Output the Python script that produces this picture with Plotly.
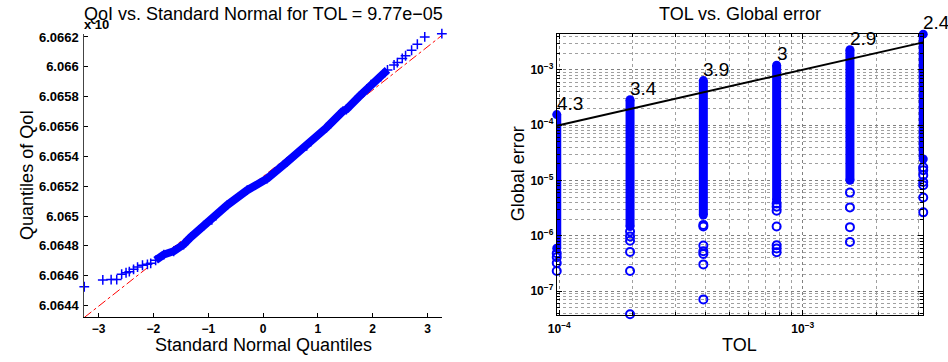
import plotly.graph_objects as go
import math

# ---------------- Left panel: QQ plot data ----------------
qq_x = [-3.262, -2.924, -2.772, -2.67, -2.58, -2.50, -2.44, -2.363, -2.29, -2.20, -2.11, -2.05,
        -1.96, -1.81, -1.63, -1.45, -1.32, -1.085, -0.935, -0.651, -0.289, 0.072, 0.434, 0.796,
        1.157, 1.459, 1.519, 1.76, 1.97, 2.15, 2.27, 2.39, 2.45, 2.54, 2.60, 2.71, 2.815, 2.95, 3.262]
qq_y = [6.064526, 6.064572, 6.064574, 6.064574, 6.06461, 6.06462, 6.064627, 6.064643, 6.064658,
        6.06467, 6.064676, 6.064683, 6.064703, 6.064742, 6.064764, 6.064809, 6.064858, 6.064935,
        6.064975, 6.065074, 6.065173, 6.06525, 6.065361, 6.065471, 6.065592, 6.065703, 6.065714,
        6.065803, 6.06588, 6.065935, 6.065979, 6.066012, 6.066028, 6.066056, 6.066074, 6.066111,
        6.066151, 6.0662, 6.066222]
ref_x = [-3.262, 3.262]
ref_y = [6.06432, 6.06621]
left_yticks = [6.0644, 6.0646, 6.0648, 6.065, 6.0652, 6.0654, 6.0656, 6.0658, 6.066, 6.0662]
left_yticklabels = ["6.0644", "6.0646", "6.0648", "6.065", "6.0652", "6.0654", "6.0656",
                    "6.0658", "6.066", "6.0662"]
left_xticks = [-3, -2, -1, 0, 1, 2, 3]

# ---------------- Right panel: TOL vs global error ----------------
tol = [9.765625e-05, 1.953125e-04, 3.90625e-04, 7.8125e-04, 1.5625e-03, 3.125e-03]
err_top = [1.55e-4, 2.88e-4, 6.37e-4, 1.21e-3, 2.30e-3, 4.40e-3]
err_dense_bottom = [5.98e-7, 1.48e-6, 2.39e-6, 4.43e-6, 1.01e-5, 2.45e-5]
err_outliers = [
    [4.87e-7, 4.13e-7, 3.23e-7, 2.32e-7],
    [1.20e-6, 9.80e-7, 8.20e-7, 5.14e-7, 2.32e-7, 3.85e-8],
    [1.58e-6, 1.48e-6, 6.68e-7, 5.28e-7, 4.73e-7, 3.06e-7, 7.14e-8],
    [3.85e-6, 3.36e-6, 2.85e-6, 1.48e-6, 6.76e-7, 5.90e-7, 5.07e-7],
    [6.05e-6, 3.27e-6, 1.44e-6, 7.74e-7],
    [1.74e-5, 1.54e-5, 1.25e-5, 9.40e-6, 8.20e-6, 4.93e-6, 2.66e-6],
]
ratio_labels = ["4.3", "3.4", "3.9", "3", "2.9", "2.4"]

FONT = "Liberation Sans, Arial, Helvetica, sans-serif"
BLUE = "#0000ff"
W, H = 948, 362

def px_x(p):
    return p / W

def px_y(p):
    return 1 - p / H

fig = go.Figure()

# ---- left panel traces ----
fig.add_trace(go.Scatter(x=ref_x, y=ref_y, mode="lines",
                         line=dict(color="#ff0000", width=1, dash="dashdot"),
                         xaxis="x", yaxis="y", showlegend=False, hoverinfo="skip"))
body_x = [a for a in qq_x if -2.0 <= a <= 2.3]
body_y = [b for a, b in zip(qq_x, qq_y) if -2.0 <= a <= 2.3]
fig.add_trace(go.Scatter(x=body_x, y=body_y, mode="lines",
                         line=dict(color=BLUE, width=8),
                         xaxis="x", yaxis="y", showlegend=False, hoverinfo="skip"))
fig.add_trace(go.Scatter(x=qq_x, y=qq_y, mode="markers", cliponaxis=False,
                         marker=dict(symbol="cross-thin", size=7, color=BLUE,
                                     line=dict(color=BLUE, width=1.5)),
                         xaxis="x", yaxis="y", showlegend=False))

# ---- right panel traces ----
col_x, col_y = [], []
for t, top, bot in zip(tol, err_top, err_dense_bottom):
    col_x += [t, t, None]
    col_y += [bot, top, None]
fig.add_trace(go.Scatter(x=col_x, y=col_y, mode="lines+markers", cliponaxis=False,
                         line=dict(color=BLUE, width=9),
                         marker=dict(symbol="circle", size=9, color=BLUE),
                         xaxis="x2", yaxis="y2", showlegend=False, hoverinfo="skip"))
out_x, out_y = [], []
for t, outs in zip(tol, err_outliers):
    for v in outs:
        out_x.append(t)
        out_y.append(v)
fig.add_trace(go.Scatter(x=out_x, y=out_y, mode="markers", cliponaxis=False,
                         marker=dict(symbol="circle-open", size=8, color=BLUE,
                                     line=dict(color=BLUE, width=2)),
                         xaxis="x2", yaxis="y2", showlegend=False))
fig.add_trace(go.Scatter(x=tol, y=tol, mode="lines",
                         line=dict(color="black", width=2),
                         xaxis="x2", yaxis="y2", showlegend=False))

# minor grid positions for log axes
x_minor = [m * 10.0 ** k for k in (-4, -3) for m in range(1, 10) if m * 10.0 ** k <= 3.2e-3]
y_minor = [m * 10.0 ** k for k in range(-8, -2) for m in range(1, 10)]

tickfont = dict(family=FONT, size=13, color="black", weight="bold")
tickfont_x = dict(family=FONT, size=12, color="black", weight="bold")
tickfont_r = dict(family=FONT, size=12, color="black", weight="bold")

fig.update_layout(
    width=W, height=H,
    margin=dict(l=0, r=0, t=0, b=0),
    paper_bgcolor="white", plot_bgcolor="white",
    font=dict(family=FONT, color="black"),
    xaxis=dict(domain=[px_x(76), px_x(437)], range=[-3.262, 3.262],
               tickvals=left_xticks, ticks="inside", ticklen=4, tickcolor="black",
               showline=True, linecolor="black", linewidth=1, mirror=False,
               showgrid=False, zeroline=False, tickfont=tickfont_x, anchor="y"),
    yaxis=dict(domain=[px_y(317), px_y(30)], range=[6.06432, 6.066222],
               tickvals=left_yticks, ticktext=left_yticklabels,
               ticks="inside", ticklen=4, tickcolor="black", ticklabelstandoff=2,
               showline=True, linecolor="#444444", linewidth=1, mirror=False,
               showgrid=False, zeroline=False, tickfont=tickfont, anchor="x"),
    xaxis2=dict(domain=[px_x(553), px_x(923)], type="log",
                range=[math.log10(tol[0]), math.log10(tol[-1])],
                tickvals=[1e-4, 1e-3], ticktext=["10<sup>\u22124</sup>", "10<sup>\u22123</sup>"],
                ticks="inside", ticklen=5, tickcolor="black", ticklabelstandoff=3,
                showline=True, linecolor="black", linewidth=1, mirror="ticks",
                showgrid=True, gridcolor="#808080", griddash="dot", gridwidth=1,
                minor=dict(tickmode="array", tickvals=x_minor, ticks="inside", ticklen=3,
                           tickcolor="black", showgrid=True, gridcolor="#a0a0a0",
                           griddash="dot", gridwidth=1),
                zeroline=False, tickfont=tickfont_r, anchor="y2"),
    yaxis2=dict(domain=[px_y(314), px_y(30)], type="log", range=[-7.42, -2.348],
                tickvals=[1e-7, 1e-6, 1e-5, 1e-4, 1e-3],
                ticktext=["10<sup>\u22127</sup>", "10<sup>\u22126</sup>", "10<sup>\u22125</sup>",
                          "10<sup>\u22124</sup>", "10<sup>\u22123</sup>"],
                ticks="inside", ticklen=5, tickcolor="black",
                showline=True, linecolor="black", linewidth=1, mirror="ticks",
                showgrid=True, gridcolor="#808080", griddash="dot", gridwidth=1,
                minor=dict(tickmode="array", tickvals=y_minor, ticks="inside", ticklen=3,
                           tickcolor="black", showgrid=True, gridcolor="#a0a0a0",
                           griddash="dot", gridwidth=1),
                zeroline=False, tickfont=tickfont_r, anchor="x2"),
)

ann = []
# ratio labels
for t, top, lab in zip(tol, err_top, ratio_labels):
    ann.append(dict(x=math.log10(t), y=math.log10(top), xref="x2", yref="y2",
                    text=lab, showarrow=False, xanchor="left", yanchor="bottom",
                    xshift=-2, yshift=-1,
                    font=dict(family=FONT, size=19, color="black")))
title_font = dict(family=FONT, size=18, color="black")
ann += [
    dict(x=px_x(257), y=px_y(10), xref="paper", yref="paper", showarrow=False,
         text="QoI vs. Standard Normal for TOL = 9.77e\u221205",
         xanchor="center", yanchor="middle", font=title_font),
    dict(x=px_x(738), y=px_y(10), xref="paper", yref="paper", showarrow=False,
         text="TOL vs. Global error", xanchor="center", yanchor="middle", font=title_font),
    dict(x=px_x(257), y=px_y(345), xref="paper", yref="paper", showarrow=False,
         text="Standard Normal Quantiles", xanchor="center", yanchor="middle", font=title_font),
    dict(x=px_x(738), y=px_y(345), xref="paper", yref="paper", showarrow=False,
         text="TOL", xanchor="center", yanchor="middle", font=title_font),
    dict(x=px_x(18), y=px_y(173), xref="paper", yref="paper", showarrow=False,
         text="Quantiles of QoI", textangle=-90, xanchor="center", yanchor="middle",
         font=title_font),
    dict(x=px_x(514), y=px_y(172), xref="paper", yref="paper", showarrow=False,
         text="Global error", textangle=-90, xanchor="center", yanchor="middle",
         font=title_font),
    dict(x=px_x(88), y=px_y(21), xref="paper", yref="paper", showarrow=False,
         text="x 10", xanchor="center", yanchor="middle",
         font=dict(family=FONT, size=13, color="black", weight="bold")),
]
fig.update_layout(annotations=ann)

fig.write_html("out.html")
